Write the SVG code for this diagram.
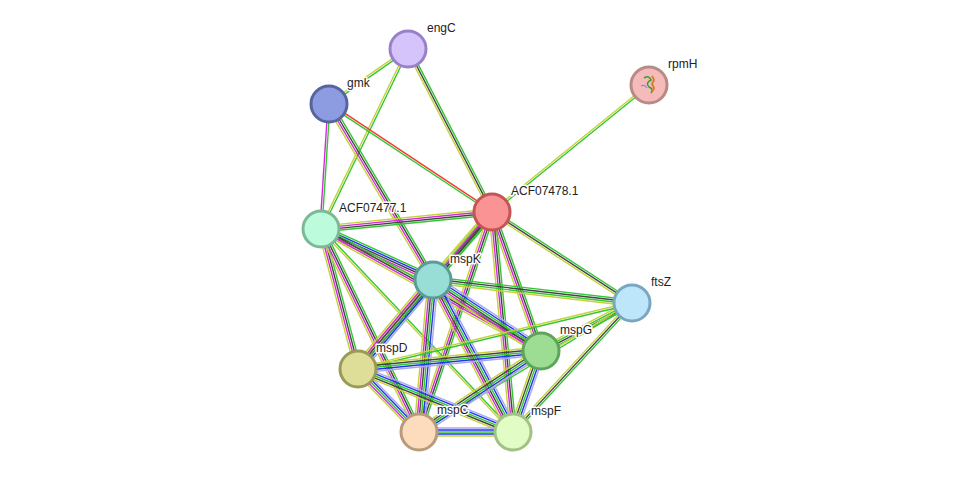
<svg xmlns="http://www.w3.org/2000/svg" width="975" height="478" viewBox="0 0 975 478">
<style>
line{stroke-width:1.4;fill:none}
.g{stroke:#33c633}.k{stroke:#444}.m{stroke:#d52bd5}.y{stroke:#c4d23c}.b{stroke:#2233ee}.l{stroke:#a7a7f5}.r{stroke:#f03c2e}
circle{stroke-width:3}
text{font-family:"Liberation Sans",Arial,sans-serif;font-size:12px;fill:#222;stroke:#fff;stroke-width:3;paint-order:stroke;stroke-linejoin:round}
</style>
<rect width="975" height="478" fill="#fff"/>
<g id="edges">
<g transform="translate(408 49) rotate(145.2)"><line class="g" x1="0" y1="-1" x2="96" y2="-1"/><line class="y" x1="0" y1="1" x2="96" y2="1"/></g>
<g transform="translate(408 49) rotate(62.7)"><line class="g" x1="0" y1="-2" x2="183" y2="-2"/><line class="k" x1="0" y1="0" x2="183" y2="0"/><line class="y" x1="0" y1="2" x2="183" y2="2"/></g>
<g transform="translate(408 49) rotate(115.8)"><line class="g" x1="0" y1="-1" x2="200" y2="-1"/><line class="y" x1="0" y1="1" x2="200" y2="1"/></g>
<g transform="translate(329 104) rotate(33.5)"><line class="r" x1="0" y1="-1" x2="195" y2="-1"/><line class="g" x1="0" y1="1" x2="195" y2="1"/></g>
<g transform="translate(329 104) rotate(93.7)"><line class="g" x1="0" y1="-1" x2="125" y2="-1"/><line class="m" x1="0" y1="1" x2="125" y2="1"/></g>
<g transform="translate(329 104) rotate(59.4)"><line class="g" x1="0" y1="-3" x2="204" y2="-3"/><line class="k" x1="0" y1="-1" x2="204" y2="-1"/><line class="m" x1="0" y1="1" x2="204" y2="1"/><line class="y" x1="0" y1="3" x2="204" y2="3"/></g>
<g transform="translate(649 85) rotate(141)"><line class="g" x1="0" y1="-1" x2="202" y2="-1"/><line class="y" x1="0" y1="1" x2="202" y2="1"/></g>
<g transform="translate(492 212) rotate(174.3)"><line class="g" x1="0" y1="-3" x2="172" y2="-3"/><line class="k" x1="0" y1="-1" x2="172" y2="-1"/><line class="m" x1="0" y1="1" x2="172" y2="1"/><line class="y" x1="0" y1="3" x2="172" y2="3"/></g>
<g transform="translate(492 212) rotate(130.9)"><line class="g" x1="0" y1="-4" x2="90" y2="-4"/><line class="k" x1="0" y1="-2" x2="90" y2="-2"/><line class="k" x1="0" y1="0" x2="90" y2="0"/><line class="g" x1="0" y1="2" x2="90" y2="2"/><line class="y" x1="0" y1="4" x2="90" y2="4"/></g>
<g transform="translate(492 212) rotate(33)"><line class="g" x1="0" y1="-2" x2="167" y2="-2"/><line class="k" x1="0" y1="0" x2="167" y2="0"/><line class="y" x1="0" y1="2" x2="167" y2="2"/></g>
<g transform="translate(492 212) rotate(70.6)"><line class="g" x1="0" y1="-3" x2="147" y2="-3"/><line class="k" x1="0" y1="-1" x2="147" y2="-1"/><line class="m" x1="0" y1="1" x2="147" y2="1"/><line class="y" x1="0" y1="3" x2="147" y2="3"/></g>
<g transform="translate(492 212) rotate(130.5)"><line class="g" x1="0" y1="-3" x2="206" y2="-3"/><line class="k" x1="0" y1="-1" x2="206" y2="-1"/><line class="m" x1="0" y1="1" x2="206" y2="1"/><line class="y" x1="0" y1="3" x2="206" y2="3"/></g>
<g transform="translate(492 212) rotate(108.4)"><line class="g" x1="0" y1="-3" x2="232" y2="-3"/><line class="k" x1="0" y1="-1" x2="232" y2="-1"/><line class="m" x1="0" y1="1" x2="232" y2="1"/><line class="y" x1="0" y1="3" x2="232" y2="3"/></g>
<g transform="translate(492 212) rotate(84.5)"><line class="g" x1="0" y1="-3" x2="221" y2="-3"/><line class="k" x1="0" y1="-1" x2="221" y2="-1"/><line class="m" x1="0" y1="1" x2="221" y2="1"/><line class="y" x1="0" y1="3" x2="221" y2="3"/></g>
<g transform="translate(321 229) rotate(24.5)"><line class="g" x1="0" y1="-4" x2="123" y2="-4"/><line class="b" x1="0" y1="-2" x2="123" y2="-2"/><line class="k" x1="0" y1="0" x2="123" y2="0"/><line class="m" x1="0" y1="2" x2="123" y2="2"/><line class="y" x1="0" y1="4" x2="123" y2="4"/></g>
<g transform="translate(321 229) rotate(29)"><line class="g" x1="0" y1="-3" x2="252" y2="-3"/><line class="k" x1="0" y1="-1" x2="252" y2="-1"/><line class="m" x1="0" y1="1" x2="252" y2="1"/><line class="y" x1="0" y1="3" x2="252" y2="3"/></g>
<g transform="translate(321 229) rotate(75.2)"><line class="g" x1="0" y1="-3" x2="145" y2="-3"/><line class="k" x1="0" y1="-1" x2="145" y2="-1"/><line class="m" x1="0" y1="1" x2="145" y2="1"/><line class="y" x1="0" y1="3" x2="145" y2="3"/></g>
<g transform="translate(321 229) rotate(64.2)"><line class="g" x1="0" y1="-3" x2="225" y2="-3"/><line class="k" x1="0" y1="-1" x2="225" y2="-1"/><line class="m" x1="0" y1="1" x2="225" y2="1"/><line class="y" x1="0" y1="3" x2="225" y2="3"/></g>
<g transform="translate(321 229) rotate(46.6)"><line class="g" x1="0" y1="-1" x2="279" y2="-1"/><line class="y" x1="0" y1="1" x2="279" y2="1"/></g>
<g transform="translate(433 280) rotate(6.6)"><line class="g" x1="0" y1="-3" x2="200" y2="-3"/><line class="k" x1="0" y1="-1" x2="200" y2="-1"/><line class="g" x1="0" y1="1" x2="200" y2="1"/><line class="y" x1="0" y1="3" x2="200" y2="3"/></g>
<g transform="translate(433 280) rotate(33.3)"><line class="l" x1="0" y1="-5" x2="129" y2="-5"/><line class="b" x1="0" y1="-3" x2="129" y2="-3"/><line class="g" x1="0" y1="-1" x2="129" y2="-1"/><line class="k" x1="0" y1="1" x2="129" y2="1"/><line class="m" x1="0" y1="3" x2="129" y2="3"/><line class="y" x1="0" y1="5" x2="129" y2="5"/></g>
<g transform="translate(433 280) rotate(130.1)"><line class="l" x1="0" y1="-5" x2="116" y2="-5"/><line class="b" x1="0" y1="-3" x2="116" y2="-3"/><line class="g" x1="0" y1="-1" x2="116" y2="-1"/><line class="k" x1="0" y1="1" x2="116" y2="1"/><line class="m" x1="0" y1="3" x2="116" y2="3"/><line class="y" x1="0" y1="5" x2="116" y2="5"/></g>
<g transform="translate(433 280) rotate(95.3)"><line class="l" x1="0" y1="-5" x2="153" y2="-5"/><line class="b" x1="0" y1="-3" x2="153" y2="-3"/><line class="g" x1="0" y1="-1" x2="153" y2="-1"/><line class="k" x1="0" y1="1" x2="153" y2="1"/><line class="m" x1="0" y1="3" x2="153" y2="3"/><line class="y" x1="0" y1="5" x2="153" y2="5"/></g>
<g transform="translate(433 280) rotate(62.2)"><line class="l" x1="0" y1="-5" x2="172" y2="-5"/><line class="b" x1="0" y1="-3" x2="172" y2="-3"/><line class="g" x1="0" y1="-1" x2="172" y2="-1"/><line class="k" x1="0" y1="1" x2="172" y2="1"/><line class="m" x1="0" y1="3" x2="172" y2="3"/><line class="y" x1="0" y1="5" x2="172" y2="5"/></g>
<g transform="translate(632 303) rotate(152.2)"><line class="g" x1="0" y1="-3" x2="103" y2="-3"/><line class="k" x1="0" y1="-1" x2="103" y2="-1"/><line class="g" x1="0" y1="1" x2="103" y2="1"/><line class="y" x1="0" y1="3" x2="103" y2="3"/></g>
<g transform="translate(632 303) rotate(166.5)"><line class="g" x1="0" y1="-1" x2="282" y2="-1"/><line class="y" x1="0" y1="1" x2="282" y2="1"/></g>
<g transform="translate(632 303) rotate(132.7)"><line class="g" x1="0" y1="-2" x2="175" y2="-2"/><line class="k" x1="0" y1="0" x2="175" y2="0"/><line class="y" x1="0" y1="2" x2="175" y2="2"/></g>
<g transform="translate(632 303) rotate(148.8)"><line class="g" x1="0" y1="-1" x2="249" y2="-1"/><line class="y" x1="0" y1="1" x2="249" y2="1"/></g>
<g transform="translate(541 351) rotate(174.4)"><line class="l" x1="0" y1="-4" x2="184" y2="-4"/><line class="b" x1="0" y1="-2" x2="184" y2="-2"/><line class="g" x1="0" y1="0" x2="184" y2="0"/><line class="k" x1="0" y1="2" x2="184" y2="2"/><line class="y" x1="0" y1="4" x2="184" y2="4"/></g>
<g transform="translate(541 351) rotate(146.4)"><line class="l" x1="0" y1="-4" x2="146" y2="-4"/><line class="b" x1="0" y1="-2" x2="146" y2="-2"/><line class="g" x1="0" y1="0" x2="146" y2="0"/><line class="k" x1="0" y1="2" x2="146" y2="2"/><line class="y" x1="0" y1="4" x2="146" y2="4"/></g>
<g transform="translate(541 351) rotate(109.1)"><line class="l" x1="0" y1="-4" x2="86" y2="-4"/><line class="b" x1="0" y1="-2" x2="86" y2="-2"/><line class="g" x1="0" y1="0" x2="86" y2="0"/><line class="k" x1="0" y1="2" x2="86" y2="2"/><line class="y" x1="0" y1="4" x2="86" y2="4"/></g>
<g transform="translate(358 369) rotate(45.9)"><line class="l" x1="0" y1="-4" x2="88" y2="-4"/><line class="b" x1="0" y1="-2" x2="88" y2="-2"/><line class="g" x1="0" y1="0" x2="88" y2="0"/><line class="m" x1="0" y1="2" x2="88" y2="2"/><line class="y" x1="0" y1="4" x2="88" y2="4"/></g>
<g transform="translate(358 369) rotate(22.1)"><line class="l" x1="0" y1="-4" x2="167" y2="-4"/><line class="b" x1="0" y1="-2" x2="167" y2="-2"/><line class="g" x1="0" y1="0" x2="167" y2="0"/><line class="k" x1="0" y1="2" x2="167" y2="2"/><line class="y" x1="0" y1="4" x2="167" y2="4"/></g>
<g transform="translate(419 432)"><line class="l" x1="0" y1="-4" x2="94" y2="-4"/><line class="b" x1="0" y1="-2" x2="94" y2="-2"/><line class="g" x1="0" y1="0" x2="94" y2="0"/><line class="b" x1="0" y1="2" x2="94" y2="2"/><line class="y" x1="0" y1="4" x2="94" y2="4"/></g>
</g>
<g id="engC"><circle cx="408" cy="49" r="18" fill="#d5c3fb" stroke="#9a80c8"/><text x="427" y="32">engC</text></g>
<g id="gmk"><circle cx="329" cy="104" r="18" fill="#8d9be0" stroke="#56649f"/><text x="347" y="87">gmk</text></g>
<g id="rpmH"><circle cx="649" cy="85" r="18" fill="#f5baba" stroke="#b88a86"/>
<path d="M644 78 q5 -3 7 2 q-6 3 -2 7 q5 2 2 6" fill="none" stroke="#3a9a3a" stroke-width="1.5"/><path d="M652 76 l2 4 -2 4 2 4 -2 4" fill="none" stroke="#d08020" stroke-width="1.8"/><path d="M641 86 q4 -2 6 2" fill="none" stroke="#8c8cd8" stroke-width="1.2"/>
<text x="668" y="68">rpmH</text></g>
<g id="ACF07478.1"><circle cx="492" cy="212" r="18" fill="#fa9393" stroke="#c55555"/><text x="511" y="195">ACF07478.1</text></g>
<g id="ACF07477.1"><circle cx="321" cy="229" r="18" fill="#bcfbdb" stroke="#7cb898"/><text x="339" y="212">ACF07477.1</text></g>
<g id="mspK"><circle cx="433" cy="280" r="18" fill="#98ddd6" stroke="#5d9b95"/><text x="450" y="263">mspK</text></g>
<g id="ftsZ"><circle cx="632" cy="303" r="18" fill="#bde6fb" stroke="#7aa6c2"/><text x="651" y="286">ftsZ</text></g>
<g id="mspG"><circle cx="541" cy="351" r="18" fill="#9ddd93" stroke="#5da55a"/><text x="560" y="334">mspG</text></g>
<g id="mspD"><circle cx="358" cy="369" r="18" fill="#dede98" stroke="#9a9a58"/><text x="376" y="352">mspD</text></g>
<g id="mspC"><circle cx="419" cy="432" r="18" fill="#fddcbe" stroke="#b89a7c"/><text x="437" y="414">mspC</text></g>
<g id="mspF"><circle cx="513" cy="432" r="18" fill="#e2fcc5" stroke="#a2c184"/><text x="531" y="415">mspF</text></g>
</svg>
